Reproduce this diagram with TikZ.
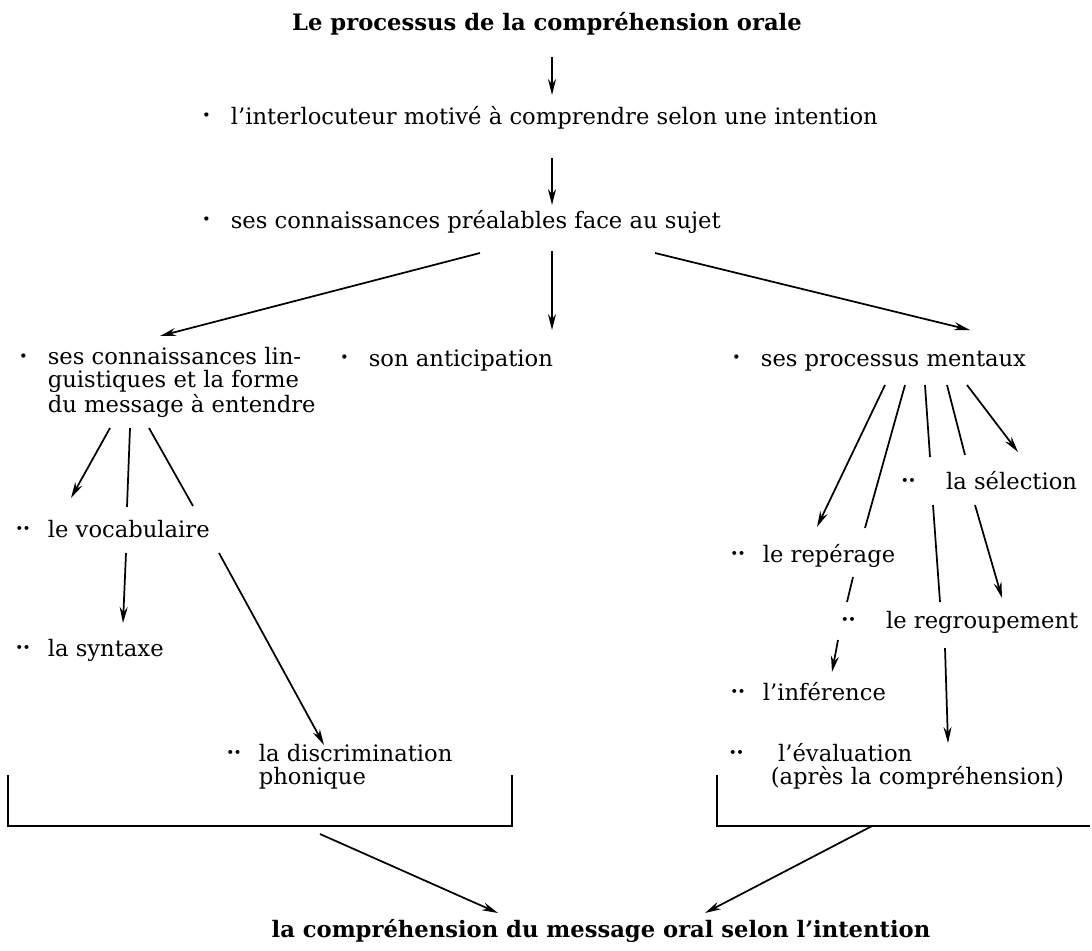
\documentclass[tikz,border=0pt]{standalone}
\usepackage{fontspec}
\setmainfont{DejaVu Serif}
\usepackage{graphicx}
\usetikzlibrary{arrows.meta,calc,positioning}
\tikzset{>={Stealth[length=12pt,width=6pt]}}
\tikzset{txt/.style={inner sep=0pt,anchor=base west,align=left,font=\fontsize{17}{17}\selectfont},
  ttl/.style={inner sep=0pt,anchor=base,font=\fontsize{17}{17}\selectfont\bfseries}}
\newcommand{\pta}{\llap{\raisebox{0.3ex}{\scalebox{0.65}{\textbullet}}\hspace{15pt}}}
\newcommand{\ptb}[1][13pt]{\llap{\raisebox{0.3ex}{\scalebox{0.6}{\textbullet\kern-1pt\textbullet}}\hspace{#1}}}

\begin{document}
\begin{tikzpicture}[x=0.75pt,y=-0.75pt,line width=1.3pt]
\useasboundingbox (0,0) rectangle (1092,950);
\node[ttl] (titl) at (547,30) {Le processus de la compréhension orale};
\node[txt] (intl) at (230,124) {\pta l'interlocuteur motivé à comprendre selon une intention};
\node[txt] (prea) at (230,228) {\pta ses connaissances préalables face au sujet};
\node[txt] (ling) at (47,412) {\pta ses connaissances lin-\\guistiques et la forme\\du message à entendre};
\node[txt] (anti) at (368,366) {\pta son anticipation};
\node[txt] (ment) at (760,366) {\pta ses processus mentaux};
\node[txt] (voca) at (47,537) {\ptb le vocabulaire};
\node[txt] (synt) at (47,656) {\ptb la syntaxe};
\node[txt] (disc) at (258,784) {\ptb la discrimination\\phonique};
\node[txt] (sele) at (938,489) {\ptb[17pt] la sélection};
\node[txt] (repe) at (762,562) {\ptb le repérage};
\node[txt] (regr) at (878,628) {\ptb[17pt] le regroupement};
\node[txt] (infe) at (762,700) {\ptb l'inférence};
\node[txt] (eval) at (770,784) {\ptb[20pt] l'évaluation\\(après la compréhension)};
\node[ttl] (fin) at (601,937) {la compréhension du message oral selon l'intention};
\draw[->] ([shift={(5,27)}]titl.base) -- ([shift={(322,-29)}]intl.base west);
\draw[->] ([shift={(322,34)}]intl.base west) -- ([shift={(322,-23)}]prea.base west);
\draw[->] ([shift={(250,25)}]prea.base west) -- ([shift={(113,-76)}]ling.base west);
\draw[->] ([shift={(322,23)}]prea.base west) -- ([shift={(184,-36)}]anti.base west);
\draw[->] ([shift={(425,25)}]prea.base west) -- ([shift={(210,-36)}]ment.base west);
\draw[->] ([shift={(63,16)}]ling.base west) -- ([shift={(24,-39)}]voca.base west);
\draw ([shift={(83,16)}]ling.base west) -- ([shift={(80,-30)}]voca.base west);
\draw ([shift={(102,16)}]ling.base west) -- ([shift={(146,-31)}]voca.base west);
\draw[->] ([shift={(79,16)}]voca.base west) -- ([shift={(76,-33)}]synt.base west);
\draw[->] ([shift={(172,16)}]voca.base west) -- ([shift={(66,-39)}]disc.base west);
\draw[->] ([shift={(125,19)}]ment.base west) -- ([shift={(55,-35)}]repe.base west);
\draw ([shift={(145,19)}]ment.base west) -- ([shift={(103,-34)}]repe.base west);
\draw ([shift={(165,19)}]ment.base west) -- ([shift={(-8,-32)}]sele.base west);
\draw ([shift={(187,19)}]ment.base west) -- ([shift={(27,-34)}]sele.base west);
\draw[->] ([shift={(207,19)}]ment.base west) -- ([shift={(80,-37)}]sele.base west);
\draw ([shift={(-5,16)}]sele.base west) -- ([shift={(62,-26)}]regr.base west);
\draw[->] ([shift={(37,16)}]sele.base west) -- ([shift={(124,-30)}]regr.base west);
\draw ([shift={(91,15)}]repe.base west) -- ([shift={(-31,-26)}]regr.base west);
\draw[->] ([shift={(-40,12)}]regr.base west) -- ([shift={(70,-28)}]infe.base west);
\draw[->] ([shift={(67,20)}]regr.base west) -- ([shift={(178,-41)}]eval.base west);
\draw (8,775) |- (512,826) -- (512,775);
\draw (717,775) |- (1090,826);
\coordinate (lbr) at (320,834);
\coordinate (rbr) at (872,826);
\draw[->] (lbr) -- ([shift={(-103,-24)}]fin.base);
\draw[->] (rbr) -- ([shift={(104,-24)}]fin.base);
\end{tikzpicture}
\end{document}
